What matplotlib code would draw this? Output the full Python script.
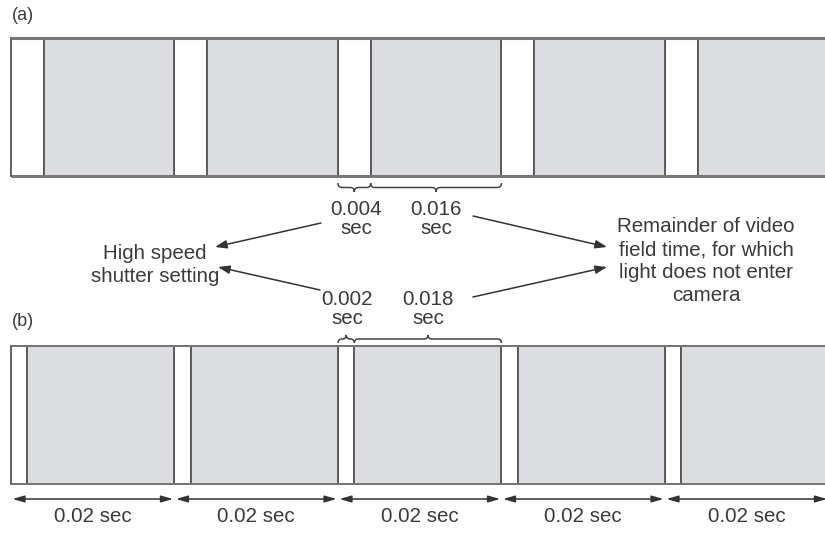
import matplotlib
matplotlib.use("Agg")
import matplotlib.pyplot as plt
from matplotlib.path import Path
from matplotlib.patches import PathPatch
import numpy as np

# ---- data ----
frame_period = 0.02          # sec per video field
n_frames = 5
open_a, closed_a = 0.004, 0.016   # (a) shutter open / closed time
open_b, closed_b = 0.002, 0.018   # (b)
period_label = "0.02 sec"
left_note = "High speed\nshutter setting"
right_note = "Remainder of video\nfield time, for which\nlight does not enter\ncamera"

plt.rcParams['font.family'] = ['Liberation Sans', 'DejaVu Sans']
TXT = '#3a3a3a'
GRAY = '#dcdde0'
EDGE = '#555555'

fig = plt.figure(figsize=(8.25, 5.33), dpi=100)
ax = fig.add_axes([0, 0, 1, 1])
px = frame_period / 163.5            # seconds per pixel
x0 = -11 * px
ax.set_xlim(x0, x0 + 825 * px)
ax.set_ylim(533, 0)
ax.axis('off')

starts = np.arange(n_frames) * frame_period

def panel(op, cl, ytop, ybot, frame_lw):
    h = ybot - ytop
    yc = (ytop + ybot) / 2
    ax.barh([yc] * n_frames, [op] * n_frames, left=starts, height=h,
            color='white', edgecolor=EDGE, linewidth=1.3, zorder=2)
    ax.barh([yc] * n_frames, [cl] * n_frames, left=starts + op, height=h,
            color=GRAY, edgecolor=EDGE, linewidth=1.3, zorder=2)
    ax.plot([starts[0], starts[-1] + frame_period + 0.01], [ytop, ytop],
            color='#777777', lw=frame_lw, zorder=3, solid_capstyle='butt')
    ax.plot([starts[0], starts[-1] + frame_period + 0.01], [ybot, ybot],
            color='#777777', lw=frame_lw, zorder=3, solid_capstyle='butt')

panel(open_a, closed_a, 38, 176, 2.2)
panel(open_b, closed_b, 345.5, 484, 1.3)

def brace(xa, xb, y, hgt):
    # hgt >0 -> tip downward (pixel y increases)
    w = xb - xa
    d = min(4 * px, w / 4)
    xm = (xa + xb) / 2
    ym = y + hgt / 2
    verts = [(xa, y), (xa, ym), (xa + d, ym),
             (xm - d, ym), (xm, ym), (xm, y + hgt),
             (xm, ym), (xm + d, ym),
             (xb - d, ym), (xb, ym), (xb, y)]
    codes = [Path.MOVETO, Path.CURVE3, Path.CURVE3,
             Path.LINETO, Path.CURVE3, Path.CURVE3,
             Path.CURVE3, Path.CURVE3,
             Path.LINETO, Path.CURVE3, Path.CURVE3]
    ax.add_patch(PathPatch(Path(verts, codes), fill=False, edgecolor='#444444', lw=1.1, zorder=4))

# (a) braces below third frame
s = starts[2]
brace(s, s + open_a, 183, 9)
brace(s + open_a, s + frame_period, 183, 9)
# (b) braces above third frame
brace(s, s + open_b, 343, -8)
brace(s + open_b, s + frame_period, 343, -8)

fs = 14.8
ax.text(s + open_a / 2 + 0.0002, 234, f"{open_a:g}\nsec", ha='center', va='baseline',
        fontsize=fs, color=TXT, linespacing=1.0)
ax.text(s + open_a + closed_a / 2, 234, f"{closed_a:g}\nsec", ha='center', va='baseline',
        fontsize=fs, color=TXT, linespacing=1.0)
ax.text(s + open_b / 2 + 0.0001, 324, f"{open_b:g}\nsec", ha='center', va='baseline',
        fontsize=fs, color=TXT, linespacing=1.0)
ax.text(s + open_b + closed_b / 2, 324, f"{closed_b:g}\nsec", ha='center', va='baseline',
        fontsize=fs, color=TXT, linespacing=1.0)

ax.text(x0 + 155 * px, 265, left_note, ha='center', va='center', fontsize=fs,
        color=TXT, linespacing=1.25)
ax.text(x0 + 706 * px, 261, right_note, ha='center', va='center', fontsize=fs,
        color=TXT, linespacing=1.25)

ax.text(x0 + 12 * px, 16, "(a)", ha='left', va='center', fontsize=13, color=TXT)
ax.text(x0 + 12 * px, 322, "(b)", ha='left', va='center', fontsize=13, color=TXT)

aprops = dict(arrowstyle='-|>,head_length=0.7,head_width=0.25', color='#333333', lw=1.1,
              shrinkA=0, shrinkB=0)
def arrow(xf, yf, xt, yt):
    ax.annotate('', xy=(x0 + xt * px, yt), xytext=(x0 + xf * px, yf), arrowprops=aprops)

arrow(321, 223, 215, 247)
arrow(320, 290, 218, 267)
arrow(473, 216, 607, 247)
arrow(473, 297, 607, 267)

dprops = dict(arrowstyle='<|-|>,head_length=0.7,head_width=0.2', color='#333333', lw=1.1,
              shrinkA=1, shrinkB=1)
for st in starts:
    ax.annotate('', xy=(st, 499), xytext=(st + frame_period, 499), arrowprops=dprops)
    ax.text(st + frame_period / 2, 516, period_label, ha='center', va='center',
            fontsize=fs, color=TXT)

fig.savefig('out.png', dpi=100)
